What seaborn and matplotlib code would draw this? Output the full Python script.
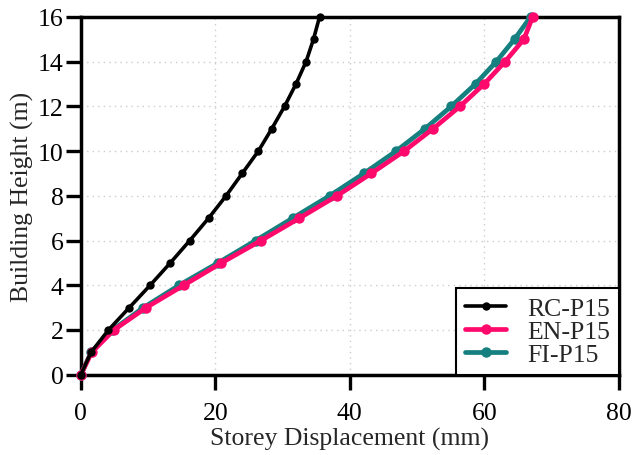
import matplotlib
matplotlib.use("Agg")
import matplotlib.pyplot as plt
import seaborn as sns
import pandas as pd

heights = list(range(0, 17))
rc_p15 = [0, 1.5, 4.1, 7.2, 10.3, 13.3, 16.2, 19.0, 21.6, 24.0, 26.4, 28.4, 30.3, 32.0, 33.5, 34.6, 35.5]
en_p15 = [0, 1.6, 4.9, 9.7, 15.3, 20.9, 26.8, 32.5, 38.1, 43.2, 48.1, 52.4, 56.4, 60.0, 63.1, 65.9, 67.2]
fi_p15 = [0, 1.5, 4.7, 9.3, 14.6, 20.4, 26.0, 31.5, 37.0, 42.1, 46.9, 51.2, 55.1, 58.7, 61.8, 64.5, 66.9]
labels = ["RC-P15", "EN-P15", "FI-P15"]
colors = ["#000000", "#FF0A6C", "#167F7F"]

sns.set_theme(style="white")
plt.rcParams['font.family'] = ['Liberation Serif', 'DejaVu Serif']
plt.rcParams['mathtext.fontset'] = 'stix'

fig = plt.figure(figsize=(6.32, 4.56), dpi=100)
ax = fig.add_axes([0.128, 0.176, 0.851, 0.785])

series = [rc_p15, en_p15, fi_p15]
lws = [2.6, 3.4, 3.4]
mss = [6, 7.5, 7.5]
zorders = [5, 4, 3]
for vals, lab, col, lw, ms, zo in zip(series, labels, colors, lws, mss, zorders):
    df = pd.DataFrame({"disp": vals, "h": heights})
    sns.lineplot(data=df, x="disp", y="h", ax=ax, color=col, linewidth=lw,
                 marker="o", markersize=ms, markeredgewidth=0, label=lab,
                 sort=False, estimator=None, zorder=zo, clip_on=False)

ax.set_xlim(0, 80)
ax.set_ylim(0, 16)
ax.set_xticks([0, 20, 40, 60, 80])
ax.set_yticks(range(0, 17, 2))
ax.grid(True, linestyle=(0, (1, 3)), color="#cccccc", linewidth=1.0)
for sp in ax.spines.values():
    sp.set_visible(True)
    sp.set_color("black")
    sp.set_linewidth(2.5)
ax.tick_params(axis="both", direction="out", length=10.5, width=2.4, colors="black",
               labelsize=18.5, bottom=True, left=True)
ax.tick_params(axis="x", pad=9)
ax.tick_params(axis="y", pad=2)
ax.set_xlabel("Storey Displacement (mm)", fontsize=18.5, labelpad=2)
ax.set_ylabel("Building Height (m)", fontsize=18.5, labelpad=3)

leg = ax.legend(loc="lower right", fontsize=18.5, frameon=True, fancybox=False,
                edgecolor="black", framealpha=1, borderaxespad=0.0,
                handlelength=1.6, handletextpad=0.8, labelspacing=0.0,
                borderpad=0.35)
leg.get_frame().set_linewidth(1.5)
leg.set_zorder(10)

fig.savefig("out.png", dpi=100)
